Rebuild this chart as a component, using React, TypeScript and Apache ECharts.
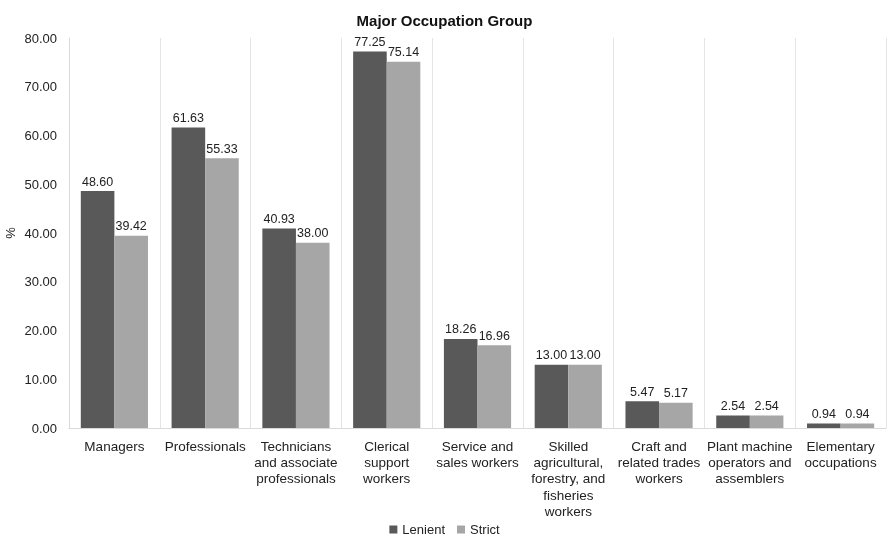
import React, { useEffect, useRef } from "react";
import * as echarts from "echarts";

const categories = [
  "Managers",
  "Professionals",
  "Technicians\nand associate\nprofessionals",
  "Clerical\nsupport\nworkers",
  "Service and\nsales workers",
  "Skilled\nagricultural,\nforestry, and\nfisheries\nworkers",
  "Craft and\nrelated trades\nworkers",
  "Plant machine\noperators and\nassemblers",
  "Elementary\noccupations",
];
const lenient = [48.6, 61.63, 40.93, 77.25, 18.26, 13.0, 5.47, 2.54, 0.94];
const strict = [39.42, 55.33, 38.0, 75.14, 16.96, 13.0, 5.17, 2.54, 0.94];

const FONT = "'Liberation Sans', Arial, sans-serif";

export default function App() {
  const ref = useRef<HTMLDivElement>(null);
  useEffect(() => {
    if (!ref.current) return;
    const chart = echarts.init(ref.current, null, { renderer: "svg" });
    const label = {
      show: true,
      position: "top" as const,
      distance: 3,
      color: "#222",
      fontSize: 12.5,
      fontFamily: FONT,
      formatter: (p: any) => Number(p.value).toFixed(2),
    };
    chart.setOption({
      animation: false,
      textStyle: { fontFamily: FONT },
      title: {
        text: "Major Occupation Group",
        left: "center",
        top: 8,
        textStyle: { fontSize: 15, fontWeight: "bold", color: "#111", fontFamily: FONT },
      },
      legend: {
        bottom: 0,
        padding: [0, 5, 1, 5],
        left: "center",
        itemWidth: 8,
        itemHeight: 8,
        itemGap: 12,
        icon: "rect",
        textStyle: { fontSize: 13, color: "#222", fontFamily: FONT },
        data: ["Lenient", "Strict"],
      },
      grid: { left: 69, right: 3, top: 38, bottom: 109, outerBoundsMode: "none", containLabel: false },
      xAxis: {
        type: "category",
        data: categories,
        axisLine: { show: true, lineStyle: { color: "#d9d9d9", width: 1 } },
        axisTick: { show: false },
        splitLine: { show: true, interval: 0, lineStyle: { color: "#e4e4e4", width: 1 } },
        axisLabel: {
          interval: 0,
          color: "#222",
          fontSize: 13.5,
          lineHeight: 16.3,
          margin: 10,
          fontFamily: FONT,
        },
      },
      yAxis: {
        type: "value",
        min: 0,
        max: 80,
        interval: 10,
        name: "%",
        nameLocation: "middle",
        nameGap: 52,
        nameMoveOverlap: false,
        nameRotate: 90,
        nameTextStyle: { fontSize: 13, color: "#222", fontFamily: FONT },
        axisLine: { show: true, lineStyle: { color: "#d9d9d9" } },
        axisTick: { show: false },
        splitLine: { show: false },
        axisLabel: {
          color: "#222",
          fontSize: 13,
          margin: 12,
          fontFamily: FONT,
          formatter: (v: number) => v.toFixed(2),
        },
      },
      series: [
        {
          name: "Lenient",
          type: "bar",
          data: lenient,
          barGap: "0%",
          barCategoryGap: "26%",
          itemStyle: { color: "#595959" },
          label,
        },
        {
          name: "Strict",
          type: "bar",
          data: strict,
          itemStyle: { color: "#a6a6a6" },
          label,
        },
      ],
    });
    return () => chart.dispose();
  }, []);
  return (
    <div
      ref={ref}
      style={{ position: "fixed", left: 0, top: 0, width: 889, height: 537 }}
    />
  );
}
